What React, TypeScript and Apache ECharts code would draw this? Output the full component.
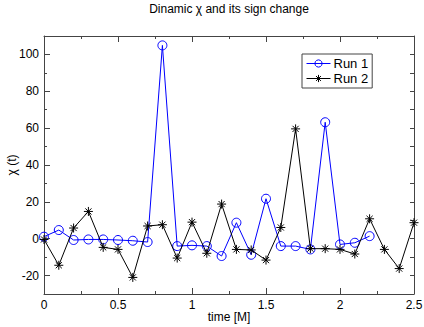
import React, { useEffect, useRef } from "react";
import * as echarts from "echarts";

const time = [0, 0.1, 0.2, 0.3, 0.4, 0.5, 0.6, 0.7, 0.8, 0.9, 1.0, 1.1, 1.2, 1.3, 1.4, 1.5, 1.6, 1.7, 1.8, 1.9, 2.0, 2.1, 2.2, 2.3, 2.4, 2.5];
const run1 = [1.1, 4.7, -0.7, -0.4, -0.4, -0.7, -1.1, -1.8, 104.9, -4, -3.6, -4, -9.4, 8.7, -8.7, 21.7, -4, -4, -5.8, 63.2, -3.1, -2.2, 1.4];
const run2 = [-0.4, -14.4, 5.8, 14.8, -4.7, -5.8, -21, 6.9, 7.6, -10.5, 9, -7.9, 18.8, -5.8, -6.1, -11.6, 6.1, 59.6, -5.4, -5.4, -5.8, -8.3, 10.8, -5.8, -16.2, 8.7];
const yLabels = [-20, 0, 20, 40, 60, 80, 100];
const seriesNames = ["Run 1", "Run 2"];

const STAR = "path://M5,0L5,10M0,5L10,5M1.6,1.6L8.4,8.4M1.6,8.4L8.4,1.6";
const FONT = "Liberation Sans";
const AX = "#444";

export default function App() {
  const ref = useRef<HTMLDivElement>(null);
  useEffect(() => {
    if (!ref.current) return;
    const chart = echarts.init(ref.current, null, { renderer: "svg" });
    const lineStyle = { color: AX, width: 1 };
    chart.setOption({
      animation: false,
      backgroundColor: "#fff",
      textStyle: { fontFamily: FONT },
      title: {
        text: "Dinamic χ and its sign change",
        left: 229,
        textAlign: "center",
        top: 3,
        padding: 0,
        textStyle: { fontFamily: FONT, fontSize: 12, fontWeight: "normal", color: "#000" },
      },
      grid: { left: 44, right: 10, top: 36, bottom: 33, containLabel: false, outerBoundsMode: "none" },
      legend: {
        orient: "vertical",
        left: 302,
        top: 54,
        padding: [3, 4, 3, 4],
        itemGap: 2,
        itemWidth: 24,
        itemHeight: 9,
        borderColor: AX,
        borderWidth: 1,
        backgroundColor: "#fff",
        textStyle: { fontFamily: FONT, fontSize: 13, color: "#000", padding: [0, 0, 0, -2] },
        data: [
          { name: seriesNames[0], itemStyle: { color: "transparent", borderColor: "#0000ff", borderWidth: 1 }, lineStyle: { width: 1 } },
          { name: seriesNames[1], itemStyle: { color: "#000", borderColor: "#000", borderWidth: 1 }, lineStyle: { width: 1 } },
        ],
      },
      xAxis: [
        {
          type: "value",
          min: 0,
          max: 2.5,
          interval: 0.5,
          position: "bottom",
          name: "time [M]",
          nameLocation: "middle",
          nameGap: 17,
          nameMoveOverlap: false,
          nameTextStyle: { fontFamily: FONT, fontSize: 12, color: "#000" },
          axisLine: { show: true, onZero: false, lineStyle },
          axisTick: { show: true, inside: true, length: 6, lineStyle },
          minorTick: { show: true, splitNumber: 2, length: 3, lineStyle },
          axisLabel: { fontFamily: FONT, fontSize: 12, color: "#000", margin: 5, formatter: (v: number) => String(v) },
          splitLine: { show: false },
        },
        {
          type: "value",
          min: 0,
          max: 2.5,
          interval: 0.5,
          position: "top",
          axisLine: { show: true, onZero: false, lineStyle },
          axisTick: { show: true, inside: true, length: 6, lineStyle },
          minorTick: { show: true, splitNumber: 2, length: 3, lineStyle },
          axisLabel: { show: false },
          splitLine: { show: false },
        },
      ],
      yAxis: [
        {
          type: "value",
          min: -30,
          max: 110,
          interval: 10,
          position: "left",
          name: "χ (t)",
          nameLocation: "middle",
          nameGap: 26,
          nameMoveOverlap: false,
          nameRotate: 90,
          nameTextStyle: { fontFamily: FONT, fontSize: 12, color: "#000" },
          axisLine: { show: true, onZero: false, lineStyle },
          axisTick: { show: true, inside: true, length: 6, lineStyle, customValues: yLabels },
          axisLabel: { fontFamily: FONT, fontSize: 12, color: "#000", margin: 5, customValues: yLabels },
          splitLine: { show: false },
        },
        {
          type: "value",
          min: -30,
          max: 110,
          interval: 10,
          position: "left",
          axisLine: { show: false, onZero: false },
          axisTick: { show: true, inside: true, length: 3, lineStyle },
          axisLabel: { show: false },
          splitLine: { show: false },
        },
        {
          type: "value",
          min: -30,
          max: 110,
          interval: 10,
          position: "right",
          axisLine: { show: true, onZero: false, lineStyle },
          axisTick: { show: true, inside: true, length: 4, lineStyle },
          axisLabel: { show: false },
          splitLine: { show: false },
        },
      ],
      series: [
        {
          name: seriesNames[0],
          type: "line",
          data: run1.map((v, i) => [time[i], v]),
          symbol: "circle",
          symbolSize: 9,
          color: "#0000ff",
          lineStyle: { color: "#0000ff", width: 1 },
          itemStyle: { color: "transparent", borderColor: "#0000ff", borderWidth: 1 },
          z: 2,
        },
        {
          name: seriesNames[1],
          type: "line",
          data: run2.map((v, i) => [time[i], v]),
          symbol: STAR,
          symbolSize: 9,
          color: "#000",
          lineStyle: { color: "#000", width: 1 },
          itemStyle: { color: "#000", borderColor: "#000", borderWidth: 1 },
          z: 3,
        },
      ],
    });
    return () => chart.dispose();
  }, []);
  return <div ref={ref} style={{ width: 424, height: 327, position: "absolute", left: 0, top: 0 }} />;
}
